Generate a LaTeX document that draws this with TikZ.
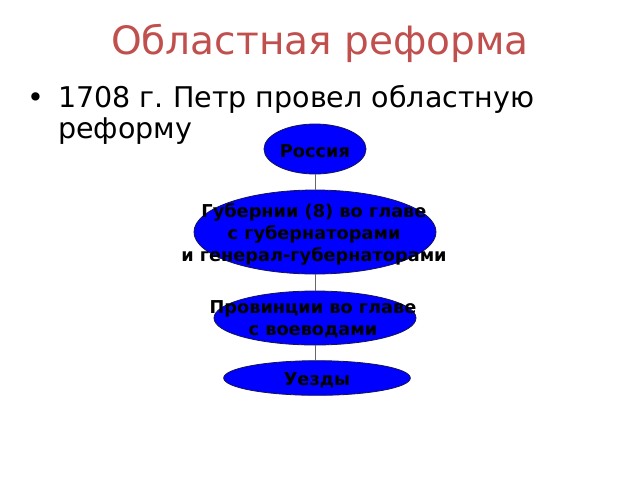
\documentclass[tikz,border=0pt]{standalone}
\usepackage{fontspec}
\setmainfont{DejaVu Sans}
\usepackage{xcolor}
\usetikzlibrary{shapes.geometric}
\frenchspacing

\definecolor{titlered}{RGB}{192,80,77}
\definecolor{ovalblue}{RGB}{0,0,255}
\definecolor{ovalrim}{RGB}{20,20,90}

\tikzset{
  oval/.style={ellipse,draw=ovalrim,fill=ovalblue,inner sep=0pt,line width=.6pt},
  ovaltext/.style={align=center,font=\fontsize{13.3}{16.5}\selectfont\bfseries,inner sep=0pt},
  slidetext/.style={inner sep=0pt,font=\fontsize{21.4}{22.5}\selectfont},
  link/.style={draw=black!60,line width=.6pt}
}

\begin{document}
\begin{tikzpicture}[x=.75pt,y=-.75pt]
  \useasboundingbox (0,0) rectangle (640,480);

  % heading and bullet
  \node (title) [anchor=base,text=titlered,font=\fontsize{29.3}{36}\selectfont] at (320,54) {Областная реформа};
  \node (dot) [anchor=base,slidetext] at (36,107) {•};
  \node (intro) [anchor=base west,slidetext] at (58,107) {1708 г. Петр провел областную};
  \node (intro2) [anchor=base west,slidetext] at (58,138) {реформу};

  % the ovals
  \draw (315,149)
    node (ros) [oval,minimum width=76.5pt,minimum height=37.5pt] {} ++(0,83)
    node (gub) [oval,minimum width=181.5pt,minimum height=63pt] {} ++(0,86)
    node (pro) [oval,minimum width=151.5pt,minimum height=40.5pt] {} ++(2,60)
    node (uez) [oval,minimum width=140pt,minimum height=26pt] {}
    ;

  % links
  \draw[link] (node cs:name=ros,anchor=south) -- (node cs:name=gub,anchor=north);
  \path (node cs:name=gub,anchor=south) coordinate (gubs) {};
  \draw[link] (gubs) -- (gubs |- pro.north);
  \path (node cs:name=pro,anchor=south) coordinate (pros) {};
  \draw[link] (pros) -- (pros |- uez.north);

  % texts
  \node (rost) [ovaltext] at (315,151) {Россия};
  \node (gubt) [ovaltext] at (314,234) {Губернии (8) во главе\\с губернаторами\\и генерал-губернаторами};
  \node (prot) [ovaltext] at (313,319) {Провинции во главе\\с воеводами};
  \node (uezt) [ovaltext] at (317,380) {Уезды};
\end{tikzpicture}
\end{document}
